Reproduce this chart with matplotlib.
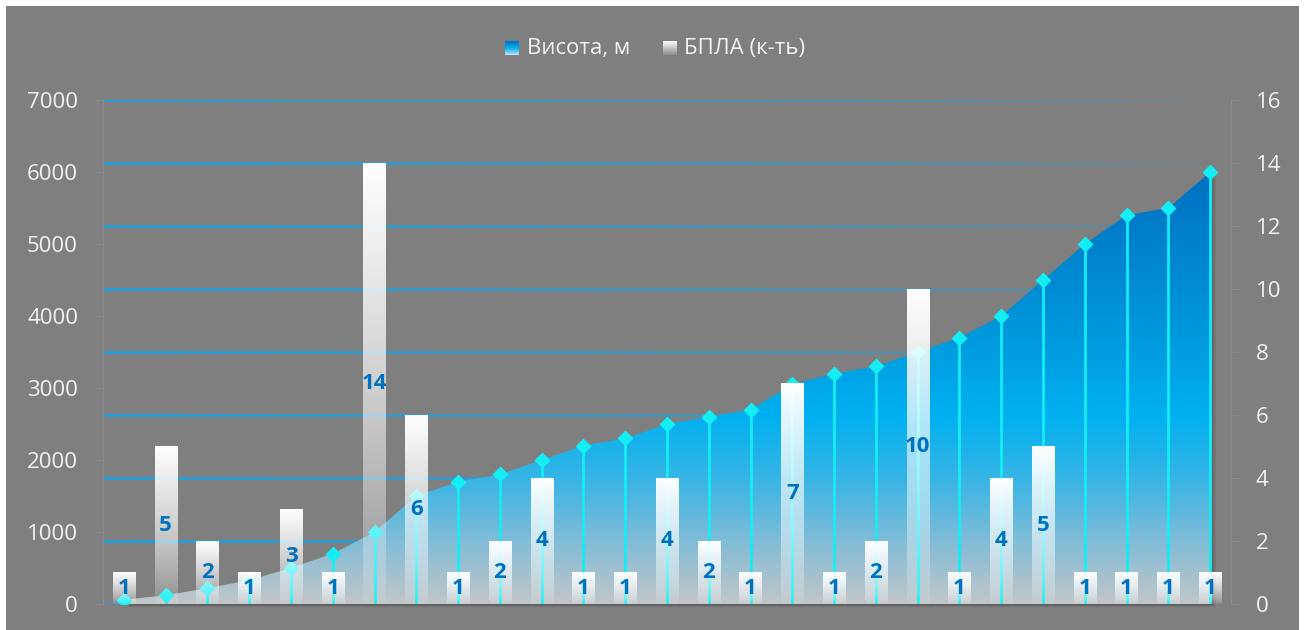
import numpy as np
import matplotlib
matplotlib.use('Agg')
import matplotlib.pyplot as plt
from matplotlib import transforms
from matplotlib.collections import LineCollection
from matplotlib.colors import LinearSegmentedColormap, to_rgb
from matplotlib.patches import Polygon, Rectangle

# висота точок запуску, м
heights = [60, 120, 220, 330, 500, 700, 1000, 1500, 1700, 1800, 2000, 2200, 2300, 2500,
           2600, 2700, 3050, 3200, 3300, 3500, 3700, 4000, 4500, 5000, 5400, 5500, 6000]
# кількість БПЛА на кожній висоті
uav_counts = [1, 5, 2, 1, 3, 1, 14, 6, 1, 2, 4, 1, 1, 4, 2, 1, 7, 1, 2, 10, 1, 4, 5, 1, 1, 1, 1]
height_ticks = [0, 1000, 2000, 3000, 4000, 5000, 6000, 7000]
count_ticks = [0, 2, 4, 6, 8, 10, 12, 14, 16]
legend_labels = ['Висота, м', 'БПЛА (к-ть)']

BG = '#7f7f7f'
GRID = '#1ba1e2'
CYAN = '#12eef4'
LABEL_BLUE = '#0070c0'
TEXT = '#f2f2f2'
AXIS = '#8c8c8c'

plt.rcParams['font.family'] = ['Open Sans', 'DejaVu Sans']

W, H = 1304, 630
fig = plt.figure(figsize=(W / 100, H / 100), dpi=100, facecolor='white')
fig.patches.append(Rectangle((6 / W, 0), 1293 / W, 624 / H, transform=fig.transFigure,
                             facecolor=BG, edgecolor='none', zorder=-10))

ax_h = fig.add_axes([103 / W, 26 / H, 1128 / W, 504 / H])
ax_c = ax_h.twinx()
ax_c.set_zorder(ax_h.get_zorder() + 1)
ax_h.patch.set_visible(False)
ax_c.patch.set_visible(False)

x = np.arange(len(heights))

# сітка по правій осі, що згасає праворуч
grid_tr = transforms.blended_transform_factory(ax_h.transAxes, ax_c.transData)
xs = np.linspace(0, 1, 121)
bg_rgb = np.array(to_rgb(BG))
grid_rgb = np.array(to_rgb(GRID))
for t in count_ticks:
    segs = [[(xs[i], t), (xs[i + 1], t)] for i in range(len(xs) - 1)]
    f = np.clip(1 - xs[:-1] / 0.98, 0, 1) ** 0.6
    cols = [bg_rgb + (grid_rgb - bg_rgb) * v for v in f]
    lc = LineCollection(segs, colors=cols, linewidths=1.9, transform=grid_tr, zorder=0.5)
    ax_h.add_collection(lc)

# тінь під площею
for k in range(1, 7):
    sh = transforms.ScaledTranslation(k * 0.9 / 100, -k * 0.45 / 100, fig.dpi_scale_trans)
    ax_h.fill_between(x, heights, 0, color='black', alpha=0.045, linewidth=0,
                      transform=ax_h.transData + sh, zorder=1, clip_on=False)

# площа з вертикальним градієнтом
top = max(heights)
area_cmap = LinearSegmentedColormap.from_list('area', [
    (0.0, '#c2c6c8'), (0.133, '#86bdd6'), (0.283, '#3ab5e5'),
    (0.433, '#00b0f0'), (0.667, '#0093d8'), (1.0, '#0070c0')])
verts = list(zip(x, heights)) + [(x[-1], 0), (x[0], 0)]
area_patch = Polygon(verts, closed=True, facecolor='none', edgecolor='none')
ax_h.add_patch(area_patch)
grad = np.linspace(0, 1, 256).reshape(-1, 1)
im = ax_h.imshow(grad, cmap=area_cmap, origin='lower', aspect='auto',
                 extent=[x[0], x[-1], 0, top], zorder=2, interpolation='bilinear')
im.set_clip_path(area_patch)

# лінії до осі та маркери
ax_h.vlines(x, 0, heights, colors=CYAN, linewidth=2, zorder=3)
ax_h.plot(x, heights, 'D', ms=8, color=CYAN, mec='none', zorder=4)

ax_h.set_xlim(-0.5, len(heights) - 0.5)
ax_h.set_ylim(height_ticks[0], height_ticks[-1])

# стовпчики з білим градієнтом прозорості
bars = ax_c.bar(x, uav_counts, width=0.53, color='none', edgecolor='none')
bar_grad = np.ones((256, 1, 4))
bar_grad[:, 0, 3] = 0.05 + 0.95 * np.linspace(0, 1, 256) ** 0.7
for rect in bars:
    bx, bw, bh = rect.get_x(), rect.get_width(), rect.get_height()
    ax_c.imshow(bar_grad, origin='lower', aspect='auto', extent=[bx, bx + bw, 0, bh],
                zorder=2, interpolation='bilinear')
ax_c.bar_label(bars, label_type='center', color=LABEL_BLUE, fontweight='bold',
               fontsize=16, zorder=5)
ax_c.set_xlim(-0.5, len(heights) - 0.5)
ax_c.set_ylim(count_ticks[0], count_ticks[-1])

# осі
ax_h.set_yticks(height_ticks)
ax_c.set_yticks(count_ticks)
ax_h.set_xticks([])
for ax in (ax_h, ax_c):
    for s in ax.spines.values():
        s.set_visible(False)
ax_h.spines['left'].set_visible(True)
ax_h.spines['left'].set_color(AXIS)
ax_c.spines['right'].set_visible(True)
ax_c.spines['right'].set_color(AXIS)
ax_h.tick_params(axis='y', colors=AXIS, labelcolor=TEXT, labelsize=16, length=6, pad=12)
ax_c.tick_params(axis='y', colors=AXIS, labelcolor=TEXT, labelsize=16, length=6, pad=12)

# легенда
sw_blue = LinearSegmentedColormap.from_list('swb', ['#c8e4f2', '#00b0f0', '#0070c0'])
sw_white = LinearSegmentedColormap.from_list('sww', ['#8c8c8c', '#ffffff'])
for sx, tx, cmap, label in [(505, 527, sw_blue, legend_labels[0]),
                            (663, 684, sw_white, legend_labels[1])]:
    sax = fig.add_axes([sx / W, 1 - 55 / H, 14 / W, 14 / H])
    sax.imshow(grad, cmap=cmap, origin='lower', aspect='auto', interpolation='bilinear')
    sax.set_axis_off()
    fig.text(tx / W, 1 - 54 / H, label, color=TEXT, fontsize=16, va='baseline', ha='left')

fig.savefig('out.png', dpi=100, facecolor=fig.get_facecolor())
